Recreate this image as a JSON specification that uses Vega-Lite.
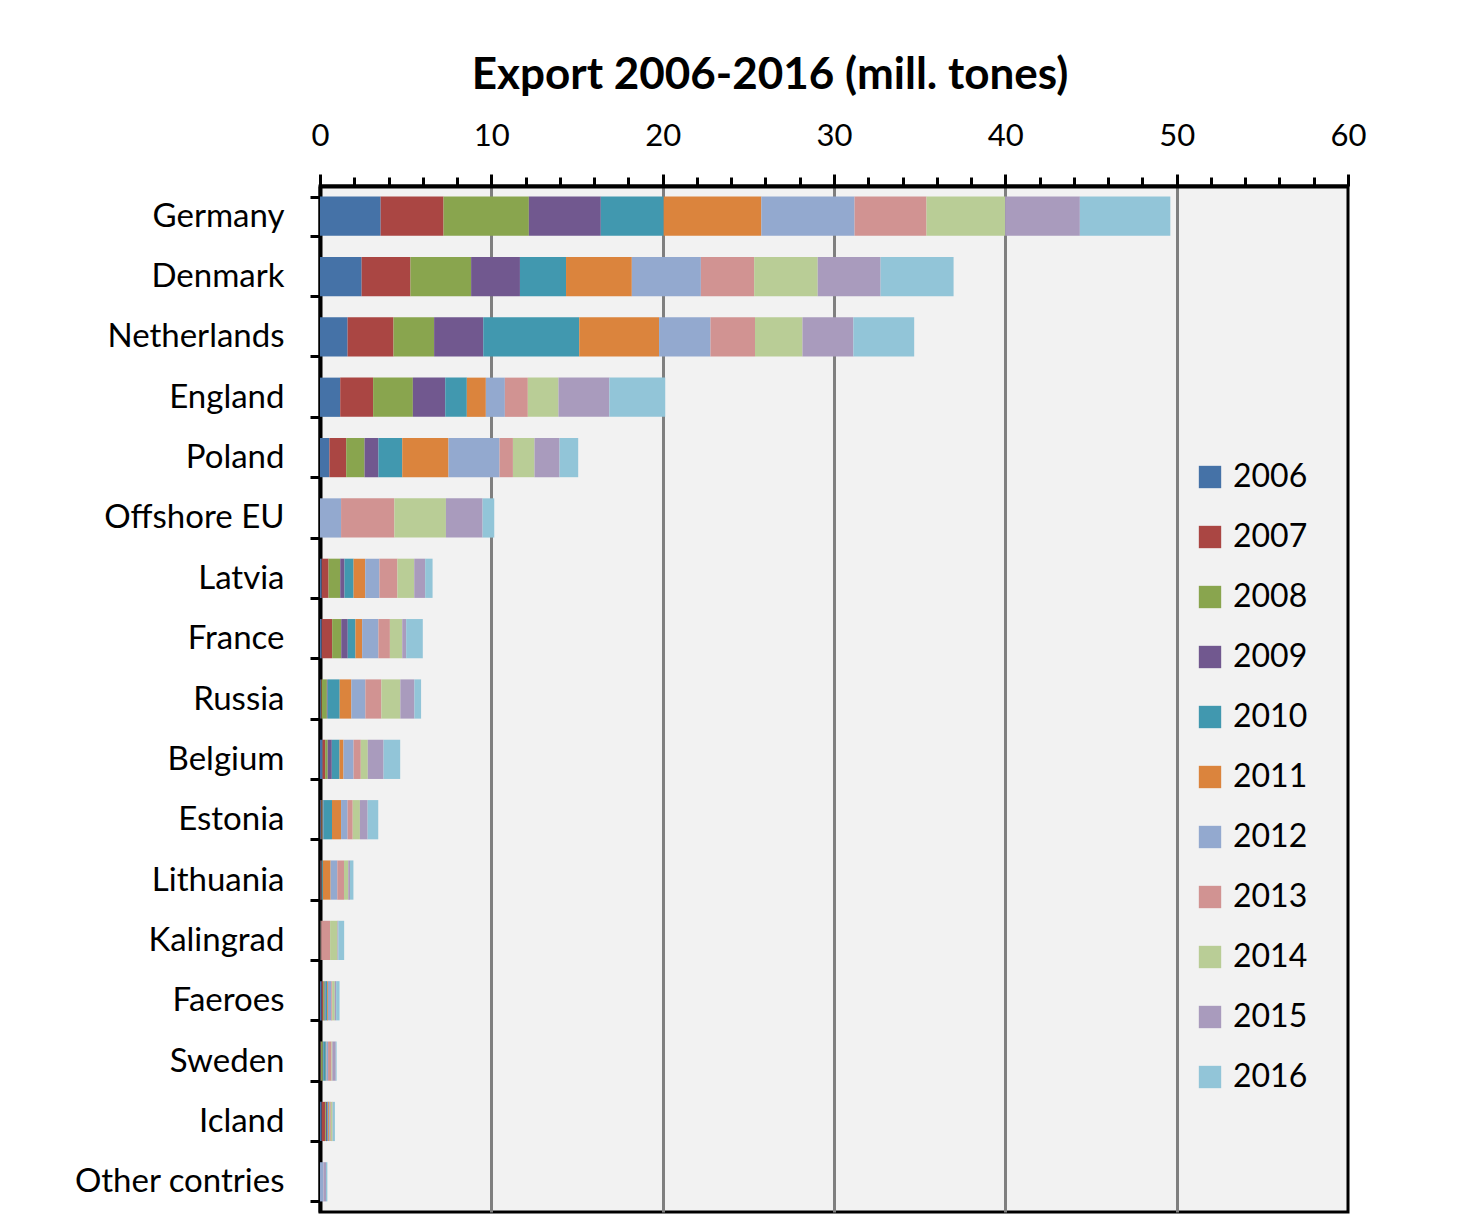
{
  "$schema": "https://vega.github.io/schema/vega-lite/v6.json",
  "autosize": {"type": "none"},
  "width": 1028,
  "height": 1026,
  "padding": {"left": 320, "top": 186, "right": 112, "bottom": 16},
  "background": "white",
  "title": {
    "text": "Export 2006-2016 (mill. tones)",
    "font": "Lato",
    "fontSize": 44,
    "fontWeight": "bold",
    "color": "black",
    "anchor": "middle",
    "dx": -64,
    "offset": 22
  },
  "config": {
    "view": {"stroke": "black", "strokeWidth": 3, "fill": "#f2f2f2"},
    "font": "Lato"
  },
  "data": {
    "values": [
      {"country": "Germany", "year": "2006", "value": 3.54},
      {"country": "Germany", "year": "2007", "value": 3.67},
      {"country": "Germany", "year": "2008", "value": 4.98},
      {"country": "Germany", "year": "2009", "value": 4.2},
      {"country": "Germany", "year": "2010", "value": 3.67},
      {"country": "Germany", "year": "2011", "value": 5.7},
      {"country": "Germany", "year": "2012", "value": 5.44},
      {"country": "Germany", "year": "2013", "value": 4.2},
      {"country": "Germany", "year": "2014", "value": 4.59},
      {"country": "Germany", "year": "2015", "value": 4.36},
      {"country": "Germany", "year": "2016", "value": 5.28},
      {"country": "Denmark", "year": "2006", "value": 2.43},
      {"country": "Denmark", "year": "2007", "value": 2.85},
      {"country": "Denmark", "year": "2008", "value": 3.54},
      {"country": "Denmark", "year": "2009", "value": 2.85},
      {"country": "Denmark", "year": "2010", "value": 2.69},
      {"country": "Denmark", "year": "2011", "value": 3.84},
      {"country": "Denmark", "year": "2012", "value": 4.03},
      {"country": "Denmark", "year": "2013", "value": 3.11},
      {"country": "Denmark", "year": "2014", "value": 3.71},
      {"country": "Denmark", "year": "2015", "value": 3.67},
      {"country": "Denmark", "year": "2016", "value": 4.26},
      {"country": "Netherlands", "year": "2006", "value": 1.61},
      {"country": "Netherlands", "year": "2007", "value": 2.68},
      {"country": "Netherlands", "year": "2008", "value": 2.37},
      {"country": "Netherlands", "year": "2009", "value": 2.87},
      {"country": "Netherlands", "year": "2010", "value": 5.6},
      {"country": "Netherlands", "year": "2011", "value": 4.66},
      {"country": "Netherlands", "year": "2012", "value": 3.0},
      {"country": "Netherlands", "year": "2013", "value": 2.6},
      {"country": "Netherlands", "year": "2014", "value": 2.77},
      {"country": "Netherlands", "year": "2015", "value": 2.97},
      {"country": "Netherlands", "year": "2016", "value": 3.55},
      {"country": "England", "year": "2006", "value": 1.18},
      {"country": "England", "year": "2007", "value": 1.92},
      {"country": "England", "year": "2008", "value": 2.32},
      {"country": "England", "year": "2009", "value": 1.89},
      {"country": "England", "year": "2010", "value": 1.26},
      {"country": "England", "year": "2011", "value": 1.11},
      {"country": "England", "year": "2012", "value": 1.11},
      {"country": "England", "year": "2013", "value": 1.34},
      {"country": "England", "year": "2014", "value": 1.79},
      {"country": "England", "year": "2015", "value": 2.97},
      {"country": "England", "year": "2016", "value": 3.26},
      {"country": "Poland", "year": "2006", "value": 0.55},
      {"country": "Poland", "year": "2007", "value": 0.98},
      {"country": "Poland", "year": "2008", "value": 1.07},
      {"country": "Poland", "year": "2009", "value": 0.81},
      {"country": "Poland", "year": "2010", "value": 1.39},
      {"country": "Poland", "year": "2011", "value": 2.7},
      {"country": "Poland", "year": "2012", "value": 2.98},
      {"country": "Poland", "year": "2013", "value": 0.78},
      {"country": "Poland", "year": "2014", "value": 1.26},
      {"country": "Poland", "year": "2015", "value": 1.46},
      {"country": "Poland", "year": "2016", "value": 1.09},
      {"country": "Offshore EU", "year": "2006", "value": 0},
      {"country": "Offshore EU", "year": "2007", "value": 0},
      {"country": "Offshore EU", "year": "2008", "value": 0},
      {"country": "Offshore EU", "year": "2009", "value": 0},
      {"country": "Offshore EU", "year": "2010", "value": 0},
      {"country": "Offshore EU", "year": "2011", "value": 0},
      {"country": "Offshore EU", "year": "2012", "value": 1.23},
      {"country": "Offshore EU", "year": "2013", "value": 3.11},
      {"country": "Offshore EU", "year": "2014", "value": 3.01},
      {"country": "Offshore EU", "year": "2015", "value": 2.14},
      {"country": "Offshore EU", "year": "2016", "value": 0.68},
      {"country": "Latvia", "year": "2006", "value": 0.1},
      {"country": "Latvia", "year": "2007", "value": 0.4},
      {"country": "Latvia", "year": "2008", "value": 0.68},
      {"country": "Latvia", "year": "2009", "value": 0.25},
      {"country": "Latvia", "year": "2010", "value": 0.53},
      {"country": "Latvia", "year": "2011", "value": 0.68},
      {"country": "Latvia", "year": "2012", "value": 0.83},
      {"country": "Latvia", "year": "2013", "value": 1.05},
      {"country": "Latvia", "year": "2014", "value": 0.98},
      {"country": "Latvia", "year": "2015", "value": 0.64},
      {"country": "Latvia", "year": "2016", "value": 0.43},
      {"country": "France", "year": "2006", "value": 0.1},
      {"country": "France", "year": "2007", "value": 0.61},
      {"country": "France", "year": "2008", "value": 0.53},
      {"country": "France", "year": "2009", "value": 0.38},
      {"country": "France", "year": "2010", "value": 0.45},
      {"country": "France", "year": "2011", "value": 0.39},
      {"country": "France", "year": "2012", "value": 0.95},
      {"country": "France", "year": "2013", "value": 0.67},
      {"country": "France", "year": "2014", "value": 0.72},
      {"country": "France", "year": "2015", "value": 0.23},
      {"country": "France", "year": "2016", "value": 0.97},
      {"country": "Russia", "year": "2006", "value": 0.05},
      {"country": "Russia", "year": "2007", "value": 0.05},
      {"country": "Russia", "year": "2008", "value": 0.3},
      {"country": "Russia", "year": "2009", "value": 0.05},
      {"country": "Russia", "year": "2010", "value": 0.7},
      {"country": "Russia", "year": "2011", "value": 0.68},
      {"country": "Russia", "year": "2012", "value": 0.82},
      {"country": "Russia", "year": "2013", "value": 0.93},
      {"country": "Russia", "year": "2014", "value": 1.11},
      {"country": "Russia", "year": "2015", "value": 0.82},
      {"country": "Russia", "year": "2016", "value": 0.39},
      {"country": "Belgium", "year": "2006", "value": 0.15},
      {"country": "Belgium", "year": "2007", "value": 0.15},
      {"country": "Belgium", "year": "2008", "value": 0.15},
      {"country": "Belgium", "year": "2009", "value": 0.24},
      {"country": "Belgium", "year": "2010", "value": 0.45},
      {"country": "Belgium", "year": "2011", "value": 0.23},
      {"country": "Belgium", "year": "2012", "value": 0.59},
      {"country": "Belgium", "year": "2013", "value": 0.42},
      {"country": "Belgium", "year": "2014", "value": 0.41},
      {"country": "Belgium", "year": "2015", "value": 0.92},
      {"country": "Belgium", "year": "2016", "value": 0.97},
      {"country": "Estonia", "year": "2006", "value": 0.05},
      {"country": "Estonia", "year": "2007", "value": 0.05},
      {"country": "Estonia", "year": "2008", "value": 0.05},
      {"country": "Estonia", "year": "2009", "value": 0.05},
      {"country": "Estonia", "year": "2010", "value": 0.5},
      {"country": "Estonia", "year": "2011", "value": 0.53},
      {"country": "Estonia", "year": "2012", "value": 0.38},
      {"country": "Estonia", "year": "2013", "value": 0.3},
      {"country": "Estonia", "year": "2014", "value": 0.42},
      {"country": "Estonia", "year": "2015", "value": 0.45},
      {"country": "Estonia", "year": "2016", "value": 0.62},
      {"country": "Lithuania", "year": "2006", "value": 0.03},
      {"country": "Lithuania", "year": "2007", "value": 0.03},
      {"country": "Lithuania", "year": "2008", "value": 0.03},
      {"country": "Lithuania", "year": "2009", "value": 0.03},
      {"country": "Lithuania", "year": "2010", "value": 0.05},
      {"country": "Lithuania", "year": "2011", "value": 0.45},
      {"country": "Lithuania", "year": "2012", "value": 0.39},
      {"country": "Lithuania", "year": "2013", "value": 0.39},
      {"country": "Lithuania", "year": "2014", "value": 0.25},
      {"country": "Lithuania", "year": "2015", "value": 0.1},
      {"country": "Lithuania", "year": "2016", "value": 0.2},
      {"country": "Kalingrad", "year": "2006", "value": 0.01},
      {"country": "Kalingrad", "year": "2007", "value": 0.01},
      {"country": "Kalingrad", "year": "2008", "value": 0.01},
      {"country": "Kalingrad", "year": "2009", "value": 0.01},
      {"country": "Kalingrad", "year": "2010", "value": 0.01},
      {"country": "Kalingrad", "year": "2011", "value": 0.01},
      {"country": "Kalingrad", "year": "2012", "value": 0.01},
      {"country": "Kalingrad", "year": "2013", "value": 0.52},
      {"country": "Kalingrad", "year": "2014", "value": 0.43},
      {"country": "Kalingrad", "year": "2015", "value": 0.05},
      {"country": "Kalingrad", "year": "2016", "value": 0.34},
      {"country": "Faeroes", "year": "2006", "value": 0.1},
      {"country": "Faeroes", "year": "2007", "value": 0.08},
      {"country": "Faeroes", "year": "2008", "value": 0.08},
      {"country": "Faeroes", "year": "2009", "value": 0.05},
      {"country": "Faeroes", "year": "2010", "value": 0.1},
      {"country": "Faeroes", "year": "2011", "value": 0.05},
      {"country": "Faeroes", "year": "2012", "value": 0.2},
      {"country": "Faeroes", "year": "2013", "value": 0.05},
      {"country": "Faeroes", "year": "2014", "value": 0.15},
      {"country": "Faeroes", "year": "2015", "value": 0.08},
      {"country": "Faeroes", "year": "2016", "value": 0.2},
      {"country": "Sweden", "year": "2006", "value": 0.03},
      {"country": "Sweden", "year": "2007", "value": 0.03},
      {"country": "Sweden", "year": "2008", "value": 0.1},
      {"country": "Sweden", "year": "2009", "value": 0.03},
      {"country": "Sweden", "year": "2010", "value": 0.15},
      {"country": "Sweden", "year": "2011", "value": 0.03},
      {"country": "Sweden", "year": "2012", "value": 0.1},
      {"country": "Sweden", "year": "2013", "value": 0.2},
      {"country": "Sweden", "year": "2014", "value": 0.05},
      {"country": "Sweden", "year": "2015", "value": 0.2},
      {"country": "Sweden", "year": "2016", "value": 0.05},
      {"country": "Icland", "year": "2006", "value": 0.1},
      {"country": "Icland", "year": "2007", "value": 0.2},
      {"country": "Icland", "year": "2008", "value": 0.05},
      {"country": "Icland", "year": "2009", "value": 0.08},
      {"country": "Icland", "year": "2010", "value": 0.05},
      {"country": "Icland", "year": "2011", "value": 0.05},
      {"country": "Icland", "year": "2012", "value": 0.05},
      {"country": "Icland", "year": "2013", "value": 0.05},
      {"country": "Icland", "year": "2014", "value": 0.1},
      {"country": "Icland", "year": "2015", "value": 0.02},
      {"country": "Icland", "year": "2016", "value": 0.12},
      {"country": "Other contries", "year": "2006", "value": 0},
      {"country": "Other contries", "year": "2007", "value": 0},
      {"country": "Other contries", "year": "2008", "value": 0},
      {"country": "Other contries", "year": "2009", "value": 0},
      {"country": "Other contries", "year": "2010", "value": 0},
      {"country": "Other contries", "year": "2011", "value": 0},
      {"country": "Other contries", "year": "2012", "value": 0.2},
      {"country": "Other contries", "year": "2013", "value": 0},
      {"country": "Other contries", "year": "2014", "value": 0},
      {"country": "Other contries", "year": "2015", "value": 0.15},
      {"country": "Other contries", "year": "2016", "value": 0.08}
    ]
  },
  "mark": {"type": "bar", "strokeWidth": 0},
  "encoding": {
    "y": {
      "field": "country",
      "type": "nominal",
      "sort": ["Germany", "Denmark", "Netherlands", "England", "Poland", "Offshore EU", "Latvia", "France", "Russia", "Belgium", "Estonia", "Lithuania", "Kalingrad", "Faeroes", "Sweden", "Icland", "Other contries"],
      "scale": {"paddingInner": 0.35, "paddingOuter": 0.175},
      "axis": {
        "title": null,
        "orient": "left",
        "domainColor": "black",
        "domainWidth": 4,
        "ticks": true,
        "tickBand": "extent",
        "tickColor": "black",
        "tickWidth": 3,
        "tickSize": 10,
        "labelFont": "Lato",
        "labelFontSize": 33,
        "labelColor": "black",
        "labelPadding": 26,
        "labelLimit": 0,
        "grid": false
      }
    },
    "x": {
      "field": "value",
      "type": "quantitative",
      "stack": "zero",
      "scale": {"domain": [0, 60], "nice": false},
      "axis": {
        "title": null,
        "orient": "top",
        "values": [0, 2, 4, 6, 8, 10, 12, 14, 16, 18, 20, 22, 24, 26, 28, 30, 32, 34, 36, 38, 40, 42, 44, 46, 48, 50, 52, 54, 56, 58, 60],
        "labelExpr": "datum.value % 10 === 0 ? datum.label : ''",
        "labelFont": "Lato",
        "labelFontSize": 31,
        "labelColor": "black",
        "labelPadding": 22,
        "labelFlush": false,
        "labelOverlap": false,
        "domainColor": "black",
        "domainWidth": 4,
        "tickColor": "black",
        "tickWidth": 3,
        "tickSize": {"condition": {"test": "datum.value % 10 === 0", "value": 12}, "value": 9},
        "grid": true,
        "gridColor": "#7f7f7f",
        "gridWidth": 3,
        "gridOpacity": {"condition": {"test": "datum.value % 10 === 0 && datum.value > 0 && datum.value < 60", "value": 1}, "value": 0}
      }
    },
    "color": {
      "field": "year",
      "type": "nominal",
      "scale": {
        "domain": ["2006", "2007", "2008", "2009", "2010", "2011", "2012", "2013", "2014", "2015", "2016"],
        "range": ["#4572a7", "#aa4643", "#89a54e", "#71588f", "#4198af", "#db843d", "#93a9cf", "#d19392", "#b9cd96", "#a99bbd", "#92c5d8"]
      },
      "legend": {
        "title": null,
        "orient": "none",
        "legendX": 874,
        "legendY": 275,
        "symbolType": "square",
        "symbolSize": 500,
        "symbolStrokeWidth": 0,
        "labelFont": "Lato",
        "labelFontSize": 32,
        "labelColor": "black",
        "labelOffset": 7,
        "rowPadding": 28
      }
    },
    "order": {"field": "year", "type": "ordinal"}
  }
}
